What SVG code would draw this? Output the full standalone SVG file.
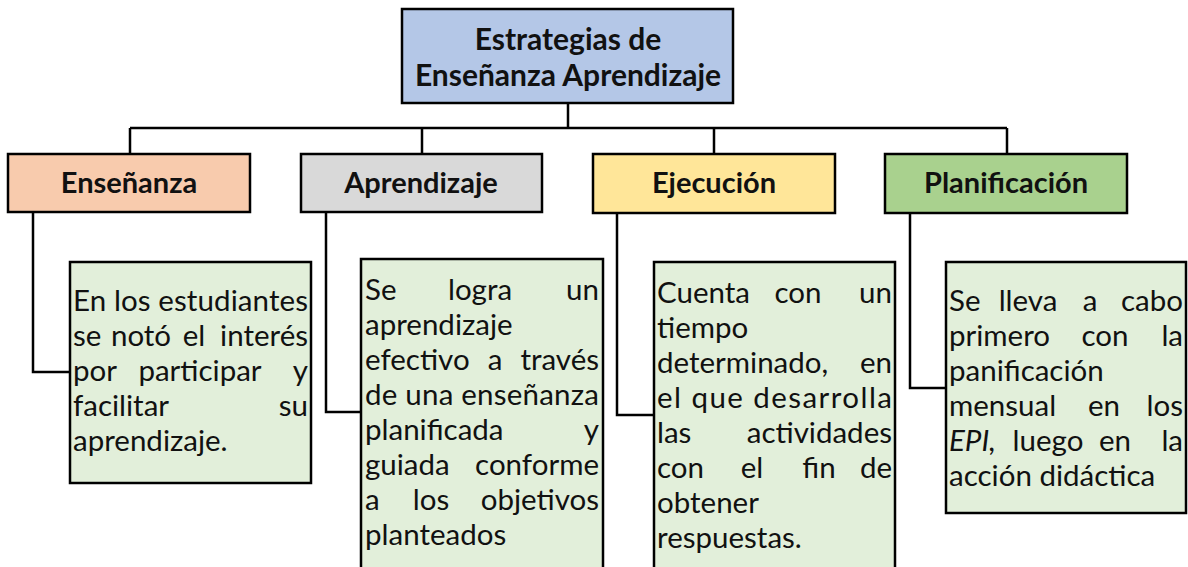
<svg xmlns="http://www.w3.org/2000/svg" width="1188" height="567" viewBox="0 0 1188 567">
<style>
  .box{stroke:#000;stroke-width:2.5}
  .conn{fill:none;stroke:#000;stroke-width:2.5}
  .title{font-family:Lato,"Liberation Sans",sans-serif;font-weight:bold;font-size:30px;fill:#111;text-anchor:middle}
  .cat{font-family:Lato,"Liberation Sans",sans-serif;font-weight:bold;font-size:29px;fill:#111;text-anchor:middle}
  .t{font-family:Lato,"Liberation Sans",sans-serif;font-size:29.5px;fill:#111}
  .e{text-anchor:end}
  .m{text-anchor:middle}
</style>
<rect width="1188" height="567" fill="#fff"/>
<g id="connectors">
  <path class="conn" d="M568 103V128M130 128H1007M130 128V154M422 128V154M714 128V154M1007 128V154"/>
  <path class="conn" d="M33 212V372H70"/>
  <path class="conn" d="M326 212V412H361"/>
  <path class="conn" d="M617 213V415H654"/>
  <path class="conn" d="M910 213V388H946"/>
</g>
<g id="root">
  <rect class="box" x="402" y="9" width="331" height="94" fill="#B4C7E7"/>
  <text class="title" x="568" y="50">Estrategias de</text>
  <text class="title" x="568" y="86">Enseñanza Aprendizaje</text>
</g>
<g id="ensenanza">
  <rect class="box" x="8" y="154" width="242" height="58" fill="#F8CBAD"/>
  <text class="cat" x="129" y="193">Enseñanza</text>
</g>
<g id="aprendizaje">
  <rect class="box" x="301" y="154" width="241" height="58" fill="#D9D9D9"/>
  <text class="cat" x="421" y="193">Aprendizaje</text>
</g>
<g id="ejecucion">
  <rect class="box" x="593" y="154" width="242" height="59" fill="#FFE699"/>
  <text class="cat" x="714" y="193">Ejecución</text>
</g>
<g id="planificacion">
  <rect class="box" x="885" y="154" width="242" height="59" fill="#A9D18E"/>
  <text class="cat" x="1006" y="193">Planificación</text>
</g>
<g id="detalle-ensenanza">
  <rect class="box" x="70" y="262" width="241" height="221" fill="#E2EFDA"/>
  <text class="t" y="311"><tspan x="73" textLength="235" lengthAdjust="spacing">En los estudiantes</tspan></text>
  <text class="t" y="346"><tspan x="73">se</tspan><tspan x="141" class="m">notó</tspan><tspan x="194" class="m">el</tspan><tspan x="308" class="e">interés</tspan></text>
  <text class="t" y="381"><tspan x="73">por</tspan><tspan x="200" class="m">participar</tspan><tspan x="308" class="e">y</tspan></text>
  <text class="t" y="416"><tspan x="73">facilitar</tspan><tspan x="308" class="e">su</tspan></text>
  <text class="t" y="451"><tspan x="73">aprendizaje.</tspan></text>
</g>
<g id="detalle-aprendizaje">
  <rect class="box" x="361" y="259" width="242" height="320" fill="#E2EFDA"/>
  <text class="t" y="300"><tspan x="365">Se</tspan><tspan x="480" class="m">logra</tspan><tspan x="599" class="e">un</tspan></text>
  <text class="t" y="335"><tspan x="365">aprendizaje</tspan></text>
  <text class="t" y="370"><tspan x="365">efectivo</tspan><tspan x="495" class="m">a</tspan><tspan x="599" class="e">través</tspan></text>
  <text class="t" y="405"><tspan x="365" textLength="234" lengthAdjust="spacing">de una enseñanza</tspan></text>
  <text class="t" y="440"><tspan x="365">planificada</tspan><tspan x="599" class="e">y</tspan></text>
  <text class="t" y="475"><tspan x="365">guiada</tspan><tspan x="599" class="e">conforme</tspan></text>
  <text class="t" y="510"><tspan x="365">a</tspan><tspan x="431" class="m">los</tspan><tspan x="599" class="e">objetivos</tspan></text>
  <text class="t" y="545"><tspan x="365">planteados</tspan></text>
</g>
<g id="detalle-ejecucion">
  <rect class="box" x="654" y="262" width="241" height="317" fill="#E2EFDA"/>
  <text class="t" y="303"><tspan x="657">Cuenta</tspan><tspan x="798" class="m">con</tspan><tspan x="892" class="e">un</tspan></text>
  <text class="t" y="338"><tspan x="657">tiempo</tspan></text>
  <text class="t" y="373"><tspan x="657">determinado,</tspan><tspan x="892" class="e">en</tspan></text>
  <text class="t" y="408"><tspan x="657" textLength="235" lengthAdjust="spacing">el que desarrolla</tspan></text>
  <text class="t" y="443"><tspan x="657">las</tspan><tspan x="892" class="e">actividades</tspan></text>
  <text class="t" y="478"><tspan x="657">con</tspan><tspan x="752" class="m">el</tspan><tspan x="819" class="m">fin</tspan><tspan x="892" class="e">de</tspan></text>
  <text class="t" y="513"><tspan x="657">obtener</tspan></text>
  <text class="t" y="548"><tspan x="657">respuestas.</tspan></text>
</g>
<g id="detalle-planificacion">
  <rect class="box" x="946" y="262" width="240" height="251" fill="#E2EFDA"/>
  <text class="t" y="311"><tspan x="949">Se</tspan><tspan x="1028" class="m">lleva</tspan><tspan x="1090" class="m">a</tspan><tspan x="1183" class="e">cabo</tspan></text>
  <text class="t" y="346"><tspan x="949">primero</tspan><tspan x="1105" class="m">con</tspan><tspan x="1183" class="e">la</tspan></text>
  <text class="t" y="381"><tspan x="949">panificación</tspan></text>
  <text class="t" y="416"><tspan x="949">mensual</tspan><tspan x="1104" class="m">en</tspan><tspan x="1183" class="e">los</tspan></text>
  <text class="t" y="451"><tspan x="949" font-style="italic">EPI,</tspan><tspan x="1048" class="m">luego</tspan><tspan x="1115" class="m">en</tspan><tspan x="1183" class="e">la</tspan></text>
  <text class="t" y="486"><tspan x="949">acción didáctica</tspan></text>
</g>
</svg>
